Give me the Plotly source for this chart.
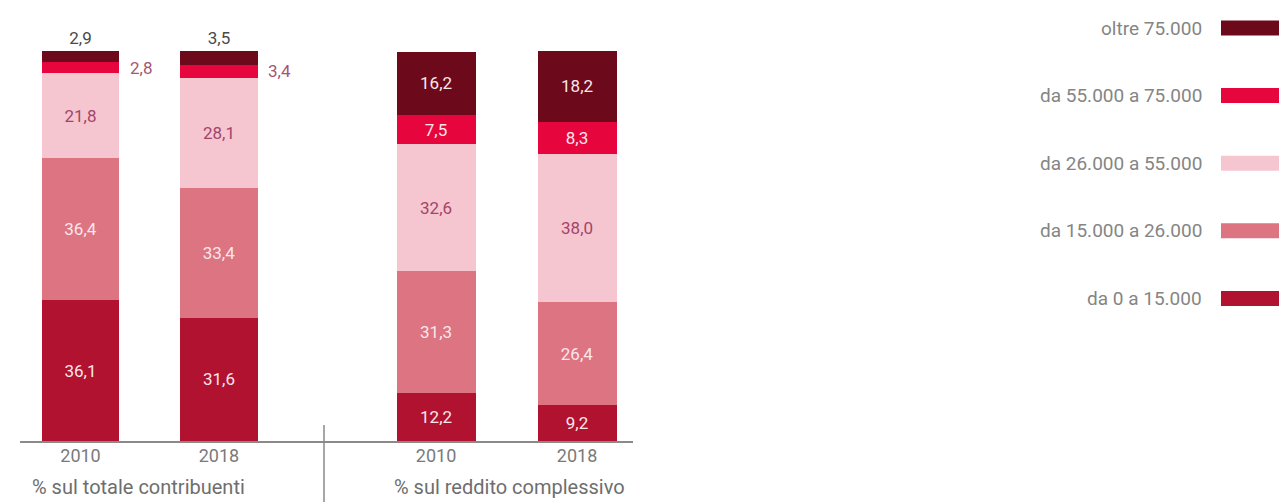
import plotly.graph_objects as go

# Income bands (euro), bottom to top of each stack
bands = ["da 0 a 15.000", "da 15.000 a 26.000", "da 26.000 a 55.000",
         "da 55.000 a 75.000", "oltre 75.000"]
years = ["2010", "2018"]

# Share of taxpayers per band (%)
contribuenti_2010 = [36.1, 36.4, 21.8, 2.8, 2.9]
contribuenti_2018 = [31.6, 33.4, 28.1, 3.4, 3.5]

# Share of total income per band (%)
reddito_2010 = [12.2, 31.3, 32.6, 7.5, 16.2]
reddito_2018 = [9.2, 26.4, 38.0, 8.3, 18.2]

group_titles = ["% sul totale contribuenti", "% sul reddito complessivo"]

colors = ["#b0122f", "#dc7482", "#f6c6d0", "#e6053d", "#6c0a1b"]
label_colors = ["#fbe6ec", "#fbe6ec", "#a2446a", "#fbe6ec", "#fbe6ec"]

W, H = 1279, 502
BASE = 441          # pixel row of the baseline
PX_PER_UNIT = 3.9   # vertical scale
FONT = "Roboto"

fig = go.Figure()

groups = [
    ("x", [contribuenti_2010, contribuenti_2018]),
    ("x2", [reddito_2010, reddito_2018]),
]

annotations = []
for gi, (xa, series) in enumerate(groups):
    for bi, band in enumerate(bands):
        vals = [series[0][bi], series[1][bi]]
        small = gi == 0 and bi >= 3
        if small and bi == 4:
            textpos = "outside"
        elif small:
            textpos = "none"
        else:
            textpos = "inside"
        fig.add_trace(go.Bar(
            x=years, y=vals, xaxis=xa, yaxis="y",
            name=band, showlegend=False,
            marker=dict(color=colors[bi], line=dict(width=0)),
            width=0.56,
            texttemplate="%{y:.1f}",
            textposition=textpos,
            insidetextanchor="middle",
            textangle=0,
            constraintext="none",
            insidetextfont=dict(family=FONT, size=17, color=label_colors[bi]),
            outsidetextfont=dict(family=FONT, size=17, color="#4a4a4a"),
            cliponaxis=False,
        ))
        if small and bi == 3:
            # label placed beside the thin segment
            for yi in range(len(years)):
                below = sum(series[yi][:bi])
                mid = below + series[yi][bi] / 2
                annotations.append(dict(
                    x=yi, y=mid, xref="x", yref="y",
                    text=f"{series[yi][bi]:.1f}".replace(".", ","),
                    showarrow=False, xanchor="left", yanchor="middle",
                    xshift=47,
                    font=dict(family=FONT, size=17, color="#a45672"),
                ))

# group titles under the axis
for title, xc in zip(group_titles, [138, 509]):
    annotations.append(dict(
        x=xc / W, y=(BASE - 487) / BASE, xref="paper", yref="paper",
        text=title, showarrow=False, xanchor="center", yanchor="middle",
        font=dict(family=FONT, size=20, color="#6e6e6e"),
    ))

# legend on the right: label then swatch, top band first
shapes = []
for k, bi in enumerate(reversed(range(len(bands)))):
    yc = 28 + k * 67.6
    annotations.append(dict(
        x=1204 / W, y=(BASE - yc) / BASE, xref="paper", yref="paper",
        text=bands[bi], showarrow=False, xanchor="right", yanchor="middle",
        font=dict(family=FONT, size=19, color="#858585"),
    ))
    shapes.append(dict(
        type="rect", xref="paper", yref="paper",
        x0=1221 / W, x1=1.0,
        y0=(BASE - yc - 7.5) / BASE, y1=(BASE - yc + 7.5) / BASE,
        fillcolor=colors[bi], line=dict(width=0),
    ))

# vertical divider between the two groups
shapes.append(dict(
    type="line", xref="paper", yref="paper",
    x0=324 / W, x1=324 / W, y0=(BASE - 425) / BASE, y1=(BASE - 505) / BASE,
    line=dict(color="#8a8a8a", width=1.5),
))

axis_common = dict(
    type="category", showgrid=False, zeroline=False,
    showline=True, linecolor="#8a8a8a", linewidth=2,
    ticks="", ticklabelstandoff=-3,
    tickfont=dict(family=FONT, size=18, color="#7a7a7a"),
    fixedrange=True,
)

fig.update_layout(
    width=W, height=H,
    margin=dict(l=0, r=0, t=0, b=H - BASE, pad=0),
    paper_bgcolor="white", plot_bgcolor="white",
    barmode="stack",
    separators=",.",
    showlegend=False,
    font=dict(family=FONT),
    xaxis=dict(domain=[20 / W, 322 / W], range=[-0.437, 1.744], anchor="y",
               **axis_common),
    xaxis2=dict(domain=[322 / W, 633 / W], range=[-0.809, 1.397], anchor="y",
                **axis_common),
    yaxis=dict(range=[0, BASE / PX_PER_UNIT], visible=False, fixedrange=True),
    annotations=annotations,
    shapes=shapes,
)

fig.write_html("out.html")
